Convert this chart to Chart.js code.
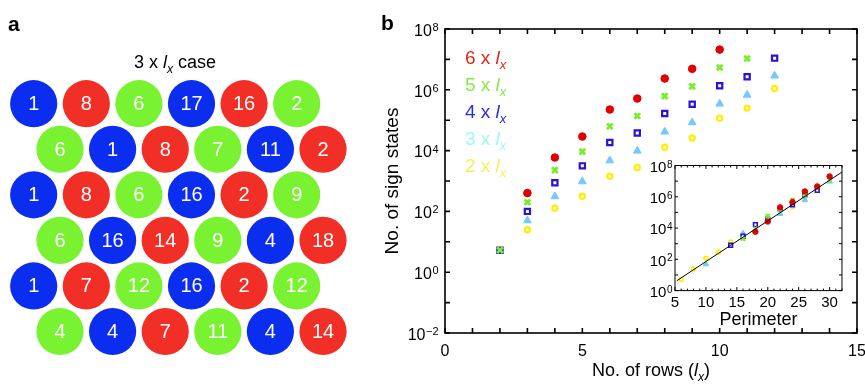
<!DOCTYPE html>
<html lang="en">
<head>
<meta charset="UTF-8">
<title>Number of sign states</title>
<script src="https://cdn.jsdelivr.net/npm/chart.js"></script>
<style>
    body { margin: 0; background: #ffffff; }
    #wrap { position: relative; width: 865px; height: 388px; overflow: hidden; }
    canvas { position: absolute; }
    #panelA { left: 0; top: 0; }
    #mainChart { left: 380px; top: 0; }
    #insetChart { left: 636px; top: 158px; }
</style>
</head>
<body>
<div id="wrap">
    <canvas id="panelA" width="380" height="388"></canvas>
    <canvas id="mainChart" width="485" height="388"></canvas>
    <canvas id="insetChart" width="212" height="170"></canvas>
</div>
<script>
const FONT = '"Liberation Sans", Arial, Helvetica, sans-serif';

// panel a: 3 x lx case, numbers and colours of every site (row by row)
const gridNumbers = [
    [1, 8, 6, 17, 16, 2],
    [6, 1, 8, 7, 11, 2],
    [1, 8, 6, 16, 2, 9],
    [6, 16, 14, 9, 4, 18],
    [1, 7, 12, 16, 2, 12],
    [4, 4, 7, 11, 4, 14]
];
const gridColors = [
    ['B', 'R', 'G', 'B', 'R', 'G'],
    ['G', 'B', 'R', 'G', 'B', 'R'],
    ['B', 'R', 'G', 'B', 'R', 'G'],
    ['G', 'B', 'R', 'G', 'B', 'R'],
    ['B', 'R', 'G', 'B', 'R', 'G'],
    ['G', 'B', 'R', 'G', 'B', 'R']
];
const siteColors = { B: '#0a2df0', R: '#f22f26', G: '#79f231' };

// panel b: number of sign states vs number of rows
const rows6 = [3, 4, 5, 6, 7, 8, 9, 10];
const states6 = [400, 5900, 29000, 224000, 515000, 2350000, 4900000, 21000000];
const rows5 = [2, 3, 4, 5, 6, 7, 8, 9, 10, 11];
const states5 = [5.3, 200, 2270, 9300, 63000, 138000, 620000, 1290000, 5400000, 10700000];
const rows4 = [2, 3, 4, 5, 6, 7, 8, 9, 10, 11, 12];
const states4 = [5.3, 100, 870, 3150, 18500, 38000, 166000, 337000, 1350000, 2700000, 11000000];
const rows3 = [3, 4, 5, 6, 7, 8, 9, 10, 11, 12];
const states3 = [50, 310, 960, 4700, 9800, 41500, 84000, 345000, 680000, 2900000];
const rows2 = [3, 4, 5, 6, 7, 8, 9, 10, 11, 12];
const states2 = [25, 128, 316, 1440, 2770, 12900, 26000, 117000, 250000, 1100000];

// inset: same states against the perimeter
const perim6 = [18, 20, 22, 24, 26, 28, 30];
const pstates6 = [5800, 26000, 210000, 460000, 2200000, 4600000, 20000000];
const perim5 = [16, 18, 20, 22, 24, 26, 30];
const pstates5 = [2100, 8900, 60000, 150000, 620000, 1050000, 12000000];
const perim4 = [14, 16, 18, 20, 22, 24, 26, 28];
const pstates4 = [790, 3000, 16600, 37000, 166000, 310000, 1350000, 2600000];
const perim3 = [10, 16, 22, 26, 30];
const pstates3 = [49, 4500, 81000, 620000, 9500000];
const perim2 = [6, 8, 10, 12, 14, 24];
const pstates2 = [5.2, 24, 117, 295, 1300, 230000];
const fitPerim = [5.3, 32];
const fitStates = [4.3, 38000000];

const legendNames = ['6', '5', '4', '3', '2'];
const legendColors = ['#e4261c', '#84ec48', '#2b2bdf', '#9ef7f7', '#f4ef5e'];
const yTickExps = [-2, 0, 2, 4, 6, 8];
const xTickLabels = [0, 5, 10, 15];
const insetYTickExps = [0, 2, 4, 6, 8];
const insetXTickLabels = [5, 10, 15, 20, 25, 30];

function toPoints(xs, ys) {
    return xs.map((x, i) => ({ x: x, y: ys[i] }));
}

// text with italic / subscript pieces
function drawRich(ctx, segs, x, y, size, align, color) {
    let total = 0;
    const parts = segs.map(s => {
        const fs = s.sub ? size * 0.68 : size;
        const font = (s.bold ? 'bold ' : '') + (s.it ? 'italic ' : '') + fs + 'px ' + FONT;
        ctx.font = font;
        const w = ctx.measureText(s.t).width;
        total += w;
        return { t: s.t, font: font, w: w, dy: s.sub ? size * 0.28 : 0 };
    });
    let cx = align === 'center' ? x - total / 2 : (align === 'right' ? x - total : x);
    ctx.fillStyle = color;
    ctx.textAlign = 'left';
    ctx.textBaseline = 'alphabetic';
    parts.forEach(p => {
        ctx.font = p.font;
        ctx.fillText(p.t, cx, y + p.dy);
        cx += p.w;
    });
}

// "10^n" label, right aligned
function drawPow(ctx, exp, xr, yTick, size, supSize) {
    ctx.font = size + 'px ' + FONT;
    const w1 = ctx.measureText('10').width;
    const sup = exp < 0 ? '\u2212' + (-exp) : String(exp);
    ctx.font = supSize + 'px ' + FONT;
    const w2 = ctx.measureText(sup).width;
    const x0 = xr - w1 - w2;
    ctx.fillStyle = '#000';
    ctx.textAlign = 'left';
    ctx.textBaseline = 'alphabetic';
    ctx.font = size + 'px ' + FONT;
    ctx.fillText('10', x0, yTick + size * 0.42);
    ctx.font = supSize + 'px ' + FONT;
    ctx.fillText(sup, x0 + w1 + 0.5, yTick + 2);
}

// ---------- panel a ----------
const sitePoints = [];
const siteFill = [];
const siteLabels = [];
gridNumbers.forEach((row, r) => {
    row.forEach((n, c) => {
        sitePoints.push({ x: c + (r % 2) * 0.5, y: r });
        siteFill.push(siteColors[gridColors[r][c]]);
        siteLabels.push(String(n));
    });
});

const panelAPlugin = {
    id: 'panelA',
    afterDatasetsDraw(chart) {
        const ctx = chart.ctx;
        const meta = chart.getDatasetMeta(0);
        ctx.save();
        ctx.fillStyle = '#ffffff';
        ctx.font = '20px ' + FONT;
        ctx.textAlign = 'center';
        ctx.textBaseline = 'middle';
        meta.data.forEach((el, i) => {
            ctx.fillText(siteLabels[i], el.x, el.y + 1);
        });
        ctx.fillStyle = '#000';
        ctx.font = 'bold 21px ' + FONT;
        ctx.textAlign = 'left';
        ctx.textBaseline = 'alphabetic';
        ctx.fillText('a', 8, 31);
        drawRich(ctx, [{ t: '3 x ' }, { t: 'l', it: true }, { t: 'x', it: true, sub: true }, { t: ' case' }],
            175, 68, 18, 'center', '#000');
        ctx.restore();
    }
};

new Chart(document.getElementById('panelA'), {
    type: 'scatter',
    data: {
        datasets: [{
            data: sitePoints,
            backgroundColor: siteFill,
            borderWidth: 0,
            pointRadius: 23.6,
            pointHoverRadius: 23.6,
            clip: false
        }]
    },
    options: {
        responsive: false,
        animation: false,
        events: [],
        layout: { padding: { left: 33.7, right: 57, top: 103.7, bottom: 56.5 } },
        plugins: { legend: { display: false }, tooltip: { enabled: false } },
        scales: {
            x: { type: 'linear', min: 0, max: 5.5, display: false },
            y: { type: 'linear', min: 0, max: 5, reverse: true, display: false }
        }
    },
    plugins: [panelAPlugin]
});

// ---------- panel b ----------
const OX = 380;
const mainAxesPlugin = {
    id: 'mainAxes',
    afterDraw(chart) {
        const ctx = chart.ctx;
        const a = chart.chartArea;
        const xs = chart.scales.x;
        const ys = chart.scales.y;
        ctx.save();
        ctx.strokeStyle = '#000';
        ctx.lineWidth = 1.6;
        ctx.strokeRect(a.left, a.top, a.right - a.left, a.bottom - a.top);
        ctx.beginPath();
        for (let e = -2; e <= 8; e++) {
            const py = ys.getPixelForValue(Math.pow(10, e));
            ctx.moveTo(a.left, py); ctx.lineTo(a.left + 5, py);
            ctx.moveTo(a.right, py); ctx.lineTo(a.right - 5, py);
        }
        for (let v = 0; v <= 15; v++) {
            const px = xs.getPixelForValue(v);
            ctx.moveTo(px, a.bottom); ctx.lineTo(px, a.bottom - 5);
            ctx.moveTo(px, a.top); ctx.lineTo(px, a.top + 5);
        }
        ctx.stroke();

        yTickExps.forEach(e => drawPow(ctx, e, a.left - 7, ys.getPixelForValue(Math.pow(10, e)), 16, 11));
        ctx.fillStyle = '#000';
        ctx.font = '16px ' + FONT;
        ctx.textAlign = 'center';
        ctx.textBaseline = 'alphabetic';
        xTickLabels.forEach(v => ctx.fillText(String(v), xs.getPixelForValue(v), 356));

        drawRich(ctx, [{ t: 'No. of rows (' }, { t: 'l', it: true }, { t: 'x', it: true, sub: true }, { t: ')' }],
            651 - OX, 376, 18, 'center', '#000');
        ctx.save();
        ctx.translate(392 - OX, 181);
        ctx.rotate(-Math.PI / 2);
        drawRich(ctx, [{ t: 'No. of sign states' }], 0, 6, 19, 'center', '#000');
        ctx.restore();

        legendNames.forEach((n, i) => {
            drawRich(ctx, [{ t: n + ' x ' }, { t: 'l', it: true }, { t: 'x', it: true, sub: true }],
                465 - OX, 63.5 + i * 27.1, 19, 'left', legendColors[i]);
        });

        ctx.fillStyle = '#000';
        ctx.font = 'bold 21px ' + FONT;
        ctx.textAlign = 'left';
        ctx.fillText('b', 1, 30);
        ctx.restore();
    }
};

function markerSets(k) {
    return [
        { pointStyle: 'circle', pointRadius: 3.8 * k, backgroundColor: '#e00000', borderColor: '#e00000', borderWidth: 1 },
        { pointStyle: 'crossRot', pointRadius: 4 * k, backgroundColor: '#77ee2a', borderColor: '#77ee2a', borderWidth: 2.8 * k },
        { pointStyle: 'rect', pointRadius: 3.7 * k, backgroundColor: '#ffffff', borderColor: '#2a12d8', borderWidth: 2.2 * k },
        { pointStyle: 'triangle', pointRadius: 4.5 * k, backgroundColor: '#74c8ff', borderColor: '#74c8ff', borderWidth: 1 },
        { pointStyle: 'circle', pointRadius: 2.6 * k, backgroundColor: '#ffffff', borderColor: '#ffee00', borderWidth: 2.2 * k }
    ];
}

const mainStyles = markerSets(1);
const mainSeries = [[rows6, states6], [rows5, states5], [rows4, states4], [rows3, states3], [rows2, states2]];

new Chart(document.getElementById('mainChart'), {
    type: 'scatter',
    data: {
        datasets: mainSeries.map((s, i) => Object.assign({ data: toPoints(s[0], s[1]), clip: false }, mainStyles[i]))
    },
    options: {
        responsive: false,
        animation: false,
        events: [],
        layout: { padding: { left: 65, right: 8, top: 29, bottom: 55 } },
        plugins: { legend: { display: false }, tooltip: { enabled: false } },
        scales: {
            x: { type: 'linear', min: 0, max: 15, display: false },
            y: { type: 'logarithmic', min: 0.01, max: 1e8, display: false }
        }
    },
    plugins: [mainAxesPlugin]
});

// ---------- inset ----------
const IX = 636, IY = 158;
const insetAxesPlugin = {
    id: 'insetAxes',
    afterDraw(chart) {
        const ctx = chart.ctx;
        const a = chart.chartArea;
        const xs = chart.scales.x;
        const ys = chart.scales.y;
        ctx.save();
        ctx.strokeStyle = '#000';
        ctx.lineWidth = 1;
        ctx.strokeRect(a.left, a.top, a.right - a.left, a.bottom - a.top);
        ctx.beginPath();
        for (let e = 0; e <= 8; e++) {
            const py = ys.getPixelForValue(Math.pow(10, e));
            ctx.moveTo(a.left, py); ctx.lineTo(a.left + 3, py);
            ctx.moveTo(a.right, py); ctx.lineTo(a.right - 3, py);
        }
        for (let v = 5; v <= 32; v++) {
            const px = xs.getPixelForValue(v);
            const len = v % 5 === 0 ? 3.5 : 2;
            ctx.moveTo(px, a.bottom); ctx.lineTo(px, a.bottom - len);
            ctx.moveTo(px, a.top); ctx.lineTo(px, a.top + len);
        }
        ctx.stroke();

        insetYTickExps.forEach(e => drawPow(ctx, e, a.left - 3, ys.getPixelForValue(Math.pow(10, e)), 15, 10));
        ctx.fillStyle = '#000';
        ctx.font = '15px ' + FONT;
        ctx.textAlign = 'center';
        ctx.textBaseline = 'alphabetic';
        insetXTickLabels.forEach(v => ctx.fillText(String(v), xs.getPixelForValue(v), 307 - IY));
        drawRich(ctx, [{ t: 'Perimeter' }], 758.5 - IX, 325 - IY, 18, 'center', '#000');
        ctx.restore();
    }
};

const insetStyles = markerSets(0.72);
const insetSeries = [[perim6, pstates6], [perim5, pstates5], [perim4, pstates4], [perim3, pstates3], [perim2, pstates2]];
const insetSets = [{
    type: 'line',
    data: toPoints(fitPerim, fitStates),
    borderColor: '#000',
    borderWidth: 1,
    pointRadius: 0,
    fill: false
}].concat(insetSeries.map((s, i) => Object.assign({ data: toPoints(s[0], s[1]) }, insetStyles[i])));

new Chart(document.getElementById('insetChart'), {
    type: 'scatter',
    data: { datasets: insetSets },
    options: {
        responsive: false,
        animation: false,
        events: [],
        layout: { padding: { left: 39, right: 5.3, top: 7.5, bottom: 37.4 } },
        plugins: { legend: { display: false }, tooltip: { enabled: false } },
        scales: {
            x: { type: 'linear', min: 5, max: 32, display: false },
            y: { type: 'logarithmic', min: 1, max: 1e8, display: false }
        }
    },
    plugins: [insetAxesPlugin]
});
</script>
</body>
</html>
